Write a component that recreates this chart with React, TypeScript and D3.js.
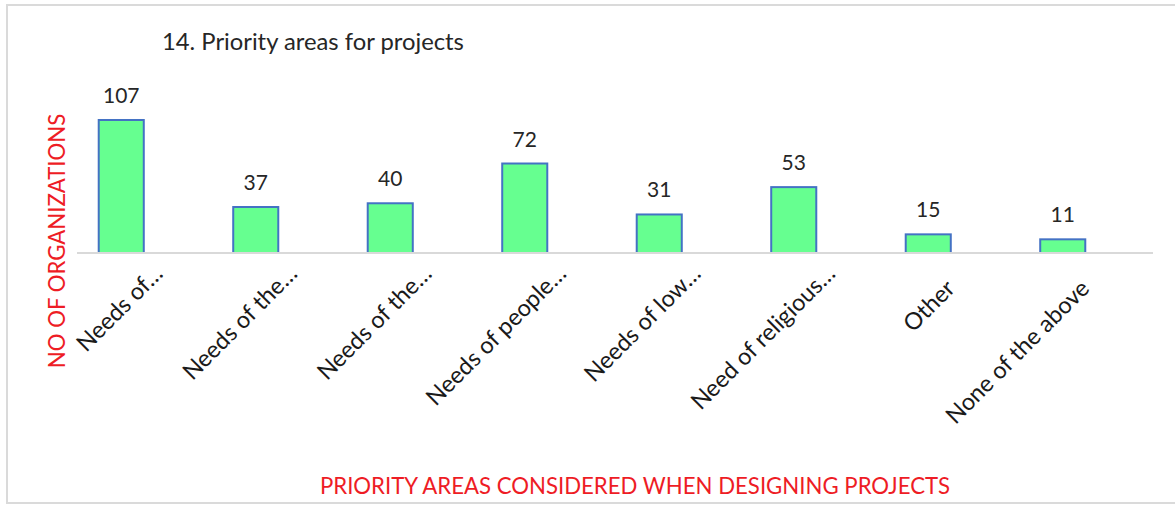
import React from "react";
import * as d3 from "d3";

const categories = [
  "Needs of…",
  "Needs of the…",
  "Needs of the…",
  "Needs of people…",
  "Needs of low…",
  "Need of religious…",
  "Other",
  "None of the above",
];
const truncated = [true, true, true, true, true, true, false, false];
const values = [107, 37, 40, 72, 31, 53, 15, 11];
const title = "14. Priority areas for projects";
const xTitle = "PRIORITY AREAS CONSIDERED WHEN DESIGNING PROJECTS";
const yTitle = "NO OF ORGANIZATIONS";

const W = 1175;
const H = 505;
const FONT = "Lato, 'Open Sans', sans-serif";

export default function App() {
  const x = d3
    .scaleBand<number>()
    .domain(d3.range(categories.length))
    .range([54, 1130])
    .paddingInner(0.665)
    .paddingOuter(0.3325);
  const y = d3.scaleLinear().domain([0, 120]).range([253, 253 - 120 * 1.243]);
  const base = y(0);

  return (
    <svg
      width={W}
      height={H}
      style={{ position: "absolute", left: 0, top: 0, background: "#fff" }}
      fontFamily={FONT}
    >
      <rect x={0} y={0} width={W} height={H} fill="#fff" />
      <rect x={7} y={5} width={W + 10} height={498} fill="none" stroke="#dadada" strokeWidth={2} />
      <text x={162} y={50} fontSize={23.8} fill="#262626">
        {title}
      </text>
      {values.map((v, i) => {
        const bx = x(i)!;
        return (
          <g key={i}>
            <rect
              x={bx}
              y={y(v)}
              width={x.bandwidth()}
              height={base - y(v)}
              fill="#66FF90"
              stroke="#4472C4"
              strokeWidth={2}
            />
            <text
              x={bx + x.bandwidth() / 2}
              y={y(v) - 17}
              textAnchor="middle"
              fontSize={21}
              fill="#262626"
            >
              {v}
            </text>
          </g>
        );
      })}
      <line x1={77} x2={1153} y1={base} y2={base} stroke="#d9d9d9" strokeWidth={2} />
      {categories.map((c, i) => {
        const cx = x(i)! + x.bandwidth() / 2;
        const shift = truncated[i] ? 21 : 0;
        const ax = cx + 28 + shift * Math.SQRT1_2;
        const ay = 290 - shift * Math.SQRT1_2;
        return (
          <text
            key={i}
            transform={`translate(${ax},${ay}) rotate(-45)`}
            textAnchor="end"
            fontSize={23.5}
            fill="#1a1a1a"
          >
            {c}
          </text>
        );
      })}
      <text
        transform={`translate(65,241) rotate(-90)`}
        textAnchor="middle"
        fontSize={22.2}
        fill="#ee1c25"
      >
        {yTitle}
      </text>
      <text x={635} y={494} textAnchor="middle" fontSize={22.2} fill="#ee1c25">
        {xTitle}
      </text>
    </svg>
  );
}
